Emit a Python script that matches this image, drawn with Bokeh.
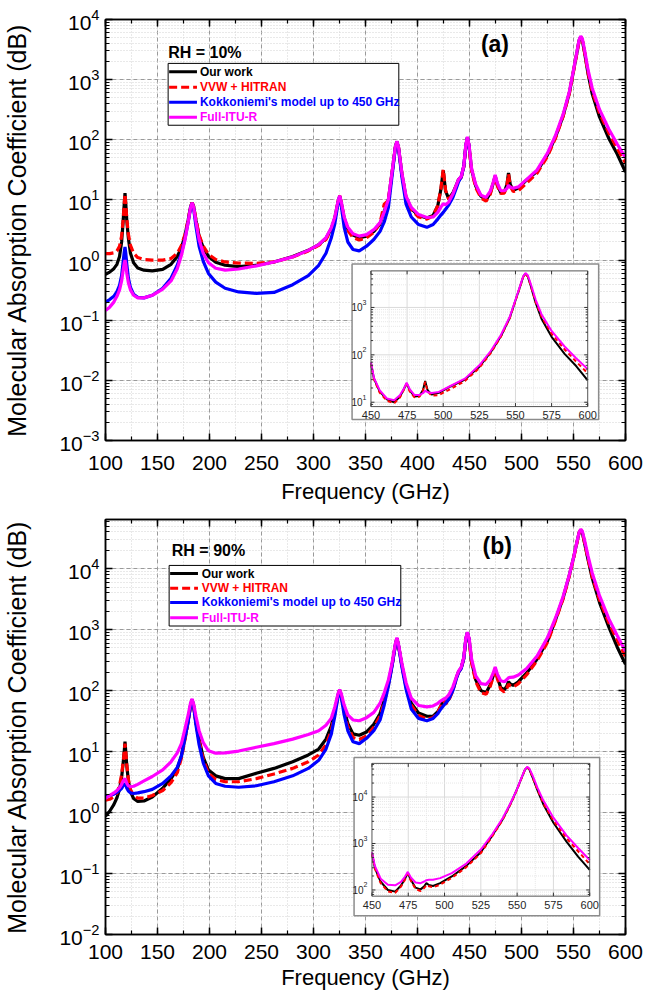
import math
from bokeh.plotting import figure
from bokeh.layouts import column
from bokeh.models import (Range1d, LinearScale, LogScale, LinearAxis, LogAxis,
                          SingleIntervalTicker, LogTicker)
from bokeh.core.properties import value
from bokeh.embed import file_html
from bokeh.resources import INLINE

# ---------------- data ----------------
FREQ = [
    100, 104, 108, 111, 113.5, 115.5, 117, 118, 118.75, 119.5,
    120.5, 122, 124, 127, 131, 137, 145, 155, 163, 169,
    173, 176.5, 179.5, 181.8, 183.3, 184.8, 187, 190, 194, 199,
    206, 215, 228, 245, 262, 280, 295, 305, 312, 317,
    320.5, 323.6, 325.15, 326.7, 329.5, 333, 338, 344, 351, 358,
    364, 368, 372, 375.5, 378.7, 380.2, 381.7, 385, 389, 394,
    401, 409, 415, 419.5, 422.5, 424.76, 427, 430, 434, 437.5,
    439.5, 442, 444.5, 446.5, 448, 449.5, 450, 452, 456, 461,
    466, 470, 472.8, 474.7, 476.8, 480, 483.5, 486, 487.5, 489.2,
    492, 497, 505, 515, 525, 533, 540, 546, 550, 553.5,
    555.4, 556.94, 558.5, 560.5, 564, 568, 575, 584, 592, 600,
]

# RH = 10 %
A_OURS = [
    0.58, 0.63, 0.72, 0.85, 1.15, 2.0, 4.5, 8.5, 13.0, 8.5,
    4.5, 2.3, 1.3, 0.9, 0.74, 0.68, 0.66, 0.7, 0.85, 1.15,
    1.6, 2.6, 4.6, 7.7, 9.0, 7.7, 4.6, 2.5, 1.6, 1.15,
    0.92, 0.82, 0.78, 0.82, 0.93, 1.15, 1.45, 1.8, 2.3, 3.3,
    5.0, 9.3, 11.5, 9.0, 5.0, 3.3, 2.6, 2.35, 2.5, 3.0,
    4.0, 6.5, 10.0, 28, 75, 93, 75, 27, 11, 7.2,
    5.5, 5.0, 5.5, 8.0, 15, 31, 14, 10.5, 13, 18,
    22, 24, 36, 80, 110, 80, 66, 32, 17, 11.5,
    10, 13, 19, 25, 18, 13.2, 13.5, 18, 28, 18,
    14.5, 15.8, 21.5, 30, 56, 115, 250, 600, 1400, 2950,
    4500, 5200, 4500, 2900, 1250, 580, 240, 105, 58, 29,
]
A_VVW = [
    1.28, 1.28, 1.32, 1.42, 1.7, 2.5, 4.8, 8.5, 12.5, 8.5,
    4.8, 2.7, 1.75, 1.3, 1.1, 1.02, 1.0, 1.0, 1.06, 1.3,
    1.75, 2.7, 4.7, 7.7, 9.0, 7.7, 4.7, 2.6, 1.7, 1.25,
    1.02, 0.93, 0.89, 0.88, 0.93, 1.12, 1.42, 1.75, 2.2, 3.2,
    4.8, 9.3, 11.8, 9.0, 4.8, 3.1, 2.35, 2.15, 2.35, 2.9,
    4.2, 8.5, 9.8, 28, 75, 93, 75, 27, 10.5, 6.8,
    5.2, 4.8, 5.4, 8.0, 15.5, 32, 14.5, 10.2, 12.5, 17.5,
    21.5, 23.5, 35, 78, 108, 79, 65, 31, 16, 10.8,
    9.5, 12.5, 18.5, 24, 17, 12.8, 13, 17.5, 27, 17,
    13.8, 14.2, 19, 28, 53, 110, 245, 590, 1380, 2900,
    4400, 5100, 4500, 2950, 1300, 640, 280, 130, 72, 41,
]
A_KOK = [  # model shown up to 450 GHz
    0.2, 0.22, 0.25, 0.3, 0.38, 0.55, 0.95, 1.35, 1.65, 1.3,
    0.85, 0.5, 0.35, 0.27, 0.24, 0.235, 0.26, 0.34, 0.5, 0.82,
    1.3, 2.3, 4.3, 7.3, 8.8, 7.0, 3.6, 1.7, 0.95, 0.6,
    0.43, 0.34, 0.295, 0.28, 0.29, 0.39, 0.55, 0.82, 1.3, 2.3,
    4.0, 8.8, 11.3, 8.0, 3.5, 2.0, 1.5, 1.42, 1.7, 2.2,
    3.0, 4.3, 7.5, 25, 73, 92, 72, 24, 8.5, 5.2,
    3.9, 3.5, 3.9, 4.8, 5.6, 6.2, 7.0, 8.2, 11, 16,
    20, 24, 36, 80, 108, 80, 66,
]
A_ITU = [
    0.145, 0.165, 0.2, 0.25, 0.32, 0.45, 0.68, 0.88, 1.0, 0.85,
    0.6, 0.42, 0.32, 0.26, 0.235, 0.235, 0.26, 0.33, 0.45, 0.72,
    1.2, 2.2, 4.3, 7.5, 9.0, 7.5, 4.3, 2.2, 1.3, 0.9,
    0.73, 0.68, 0.71, 0.8, 0.93, 1.13, 1.45, 1.8, 2.35, 3.4,
    5.2, 9.5, 11.8, 9.3, 5.2, 3.5, 2.75, 2.5, 2.65, 3.2,
    4.2, 6.3, 10.2, 29, 77, 95, 77, 28, 11.5, 7.5,
    5.7, 5.1, 5.2, 6.2, 7.6, 8.7, 8.3, 9.2, 12.5, 18,
    22, 24.5, 37, 84, 112, 84, 70, 33, 18, 12,
    11, 14, 19.5, 26, 19, 14.3, 14.2, 15.5, 17.5, 16.3,
    15.6, 16.5, 22, 31.5, 60, 122, 265, 630, 1450, 3050,
    4600, 5300, 4800, 3200, 1450, 720, 320, 150, 85, 50,
]

# RH = 90 %
B_OURS = [
    0.87, 1.05, 1.35, 1.75, 2.4, 3.8, 6.5, 10, 14.5, 10,
    5.8, 3.3, 2.2, 1.7, 1.52, 1.55, 1.8, 2.5, 3.6, 5.2,
    8.5, 17, 32, 58, 71, 56, 30, 16, 8.0, 5.0,
    4.0, 3.6, 3.6, 4.4, 5.3, 6.8, 8.8, 11, 16, 26,
    47, 85, 102, 84, 48, 29, 19.5, 18.5, 21, 28,
    42, 70, 130, 260, 560, 720, 560, 260, 120, 62,
    43, 38, 38, 45, 56, 68, 62, 72, 105, 165,
    205, 235, 340, 700, 900, 700, 610, 300, 150, 100,
    92, 125, 175, 230, 165, 112, 103, 120, 140, 128,
    122, 140, 195, 330, 650, 1500, 3300, 7800, 15000, 28000,
    39000, 43000, 39000, 27000, 14000, 7000, 2800, 1100, 520, 270,
]
B_VVW = [
    1.6, 1.65, 1.8, 2.1, 2.8, 4.2, 6.8, 10, 13.5, 10,
    6.0, 3.5, 2.4, 1.9, 1.72, 1.72, 1.9, 2.3, 3.1, 4.5,
    7.8, 16, 31, 57, 71, 55, 29, 15, 7.5, 4.4,
    3.5, 3.2, 3.2, 3.6, 4.3, 5.3, 6.8, 8.8, 13, 22,
    42, 83, 100, 82, 45, 26, 17, 15.8, 18, 25,
    38, 65, 125, 255, 555, 720, 555, 255, 115, 58,
    39, 34, 36, 44, 56, 70, 60, 68, 100, 160,
    200, 230, 335, 690, 880, 690, 600, 290, 140, 93,
    87, 118, 168, 222, 158, 105, 95, 110, 128, 120,
    114, 130, 182, 310, 620, 1450, 3200, 7600, 14500, 27500,
    38500, 43500, 39500, 27500, 14500, 7400, 3100, 1300, 680, 360,
]
B_KOK = [  # model shown up to 450 GHz
    1.8, 1.9, 2.0, 2.15, 2.3, 2.5, 2.75, 2.9, 3.0, 2.85,
    2.5, 2.25, 2.1, 2.05, 2.1, 2.2, 2.4, 3.0, 4.0, 5.5,
    8.5, 17, 31, 57, 70, 54, 27, 13, 6.5, 4.0,
    3.0, 2.7, 2.6, 2.75, 3.2, 4.0, 5.3, 7.2, 11, 19,
    38, 80, 97, 78, 40, 22, 14.5, 13.5, 16.5, 22,
    33, 58, 118, 250, 550, 710, 545, 245, 105, 50,
    35, 32, 35, 42, 50, 56, 62, 72, 100, 160,
    200, 230, 335, 700, 880, 700, 610,
]
B_ITU = [
    1.7, 1.9, 2.1, 2.3, 2.55, 2.9, 3.3, 3.5, 3.6, 3.4,
    3.0, 2.75, 2.65, 2.7, 2.9, 3.3, 3.9, 5.0, 6.8, 9.5,
    13.5, 24, 40, 63, 73, 60, 38, 22, 14, 10.3,
    9.4, 9.5, 10.2, 11.8, 13.5, 16, 19, 22, 27, 35,
    54, 89, 104, 89, 58, 40, 33, 32, 36, 44,
    62, 92, 150, 280, 590, 740, 580, 280, 135, 75,
    57, 54, 56, 62, 68, 72, 75, 85, 115, 170,
    210, 240, 350, 740, 910, 740, 650, 330, 175, 130,
    126, 150, 195, 245, 185, 145, 140, 152, 162, 165,
    166, 180, 230, 370, 740, 1600, 3500, 8000, 15000, 28500,
    39500, 44500, 41000, 30000, 16000, 8500, 3600, 1500, 800, 440,
]

LABELS = ["Our work", "VVW + HITRAN", "Kokkoniemi's model up to 450 GHz", "Full-ITU-R"]
INSET_X_TICKS = [450, 475, 500, 525, 550, 575, 600]
X_TITLE = "Frequency (GHz)"
Y_TITLE = "Molecular Absorption Coefficient (dB)"

# ---------------- styles / geometry ----------------
FONT = "Liberation Sans"
COLORS = ["#000000", "#ff0000", "#0000ff", "#ff00ff"]
DASHES = ["solid", "8 4", "solid", "solid"]
INSET_DASHES = ["solid", "4 3", "solid", "solid"]
W = 645
FL, FW = 102, 523

GEO = {
    "a": dict(H=516, TOP=19, FH=421, lab_standoff=15, title_standoff=6,
              tag="(a)", rh="RH = 10%", yr=(1e-3, 1e4),
              box=(63, 295, 44, 106), rows=[52.3, 68, 83, 98], line_u=(64, 92), text_u=95,
              rh_uv=(63, 33), tag_uv=(391.7, 24.7),
              outer=(248, 496, 245, 401), inner=(267, 485, 252, 388),
              iyr=(8.1, 5900), idec=[1, 2, 3]),
    "b": dict(H=476, TOP=3, FH=416, lab_standoff=10, title_standoff=3,
              tag="(b)", rh="RH = 90%", yr=(1e-2, 6.4e4),
              box=(64, 297, 46.7, 108.3), rows=[55, 70, 84.3, 100], line_u=(65, 93), text_u=96.7,
              rh_uv=(66.7, 31.7), tag_uv=(394, 26.7),
              outer=(250, 497, 242, 403), inner=(268, 487, 248, 383),
              iyr=(73.6, 53000), idec=[2, 3, 4]),
}


def style_axis(ax, show):
    ax.axis_line_width = 1.5
    ax.axis_line_color = "black"
    ax.major_tick_in = 7
    ax.major_tick_out = 0
    ax.minor_tick_in = 4
    ax.minor_tick_out = 0
    ax.major_tick_line_width = 1.5
    ax.minor_tick_line_width = 1.2
    ax.major_label_text_font = FONT
    if show:
        ax.major_label_text_font_size = "21px"
        ax.major_label_text_color = "black"
    else:
        ax.major_label_text_font_size = "1px"
        ax.major_label_text_color = None
        ax.major_label_standoff = 0
    ax.axis_label_text_font = FONT
    ax.axis_label_text_font_style = "normal"
    ax.axis_label_text_color = "black"


def txt(p, xs, ys, texts, size, color="black", bold=False, align="left",
        baseline="middle", xr="px", yr="py", yoff=0):
    p.text(x=xs, y=ys, text=texts, x_range_name=xr, y_range_name=yr,
           text_font=value(FONT), text_font_size=size,
           text_font_style="bold" if bold else "normal", text_color=color,
           text_align=align, text_baseline=baseline, y_offset=yoff)


def build(key, ours, vvw, kok, itu):
    g = GEO[key]
    H, TOP, FH = g["H"], g["TOP"], g["FH"]
    SV = FH / 422.0
    p = figure(width=W, height=H, x_range=Range1d(100, 600), y_range=Range1d(*g["yr"]),
               y_axis_type="log", output_backend="svg", toolbar_location=None,
               min_border_left=FL, min_border_right=W - FL - FW,
               min_border_top=TOP, min_border_bottom=H - TOP - FH)
    p.background_fill_color = "white"
    p.border_fill_color = "white"
    p.outline_line_color = "black"
    p.outline_line_width = 1.5

    xt = SingleIntervalTicker(interval=50, num_minor_ticks=2)
    yt = LogTicker(num_minor_ticks=10)
    p.xaxis.ticker = xt
    p.yaxis.ticker = yt
    p.xgrid.ticker = xt
    p.ygrid.ticker = yt
    style_axis(p.xaxis[0], True)
    style_axis(p.yaxis[0], True)
    p.xaxis.axis_label = X_TITLE
    p.yaxis.axis_label = Y_TITLE
    p.xaxis.axis_label_text_font_size = "22px"
    p.yaxis.axis_label_text_font_size = "25px"
    p.xaxis.major_label_standoff = g["lab_standoff"]
    p.xaxis.axis_label_standoff = g["title_standoff"]
    p.yaxis.major_label_standoff = 6
    p.yaxis.axis_label_standoff = 25
    top_ax = LinearAxis(ticker=xt)
    style_axis(top_ax, False)
    p.add_layout(top_ax, "above")
    right_ax = LogAxis(ticker=yt)
    style_axis(right_ax, False)
    p.add_layout(right_ax, "right")

    for grid in (p.xgrid, p.ygrid):
        grid.grid_line_color = "#9a9a9a"
        grid.grid_line_dash = "4 3"
        grid.grid_line_width = 1
        grid.minor_grid_line_color = "#d2d2d2"
        grid.minor_grid_line_dash = "1 2"
        grid.minor_grid_line_width = 1

    # helper ranges: frame pixels and the inset's data ranges
    iu0, iu1, iv0, iv1 = g["inner"]
    iv0 *= SV
    iv1 *= SV
    k = 150.0 / (iu1 - iu0)
    ix = Range1d(450 - iu0 * k, 600 + (FW - iu1) * k)
    lo, hi = math.log10(g["iyr"][0]), math.log10(g["iyr"][1])
    kk = (hi - lo) / (iv1 - iv0)
    iy = Range1d(10 ** (lo - (FH - iv1) * kk), 10 ** (hi + iv0 * kk))
    p.extra_x_ranges = {"px": Range1d(0, FW), "ix": ix}
    p.extra_y_ranges = {"py": Range1d(FH, 0), "iy": iy}
    p.extra_x_scales = {"px": LinearScale(), "ix": LinearScale()}
    p.extra_y_scales = {"py": LinearScale(), "iy": LogScale()}

    series = [ours, vvw, kok, itu]
    for s, c, d in zip(series, COLORS, DASHES):
        p.line(FREQ[:len(s)], s, line_color=c, line_width=3.2, line_dash=d)

    # legend
    u0, u1, v0, v1 = g["box"]
    p.quad(left=[u0], right=[u1], top=[v0 * SV], bottom=[v1 * SV], x_range_name="px",
           y_range_name="py", fill_color="white", line_color="black", line_width=1)
    lu0, lu1 = g["line_u"]
    for lab, c, d, rv in zip(LABELS, COLORS, DASHES, g["rows"]):
        p.segment(x0=[lu0], y0=[rv * SV], x1=[lu1], y1=[rv * SV], x_range_name="px",
                  y_range_name="py", line_color=c, line_width=3, line_dash=d)
        txt(p, [g["text_u"]], [rv * SV], [lab], "12px", color=c, bold=True)
    txt(p, [g["rh_uv"][0]], [g["rh_uv"][1] * SV], [g["rh"]], "16px", bold=True)
    txt(p, [g["tag_uv"][0]], [g["tag_uv"][1] * SV], [g["tag"]], "23px", bold=True,
        align="center")

    # inset
    ou0, ou1, ov0, ov1 = g["outer"]
    p.quad(left=[ou0], right=[ou1], top=[ov0 * SV], bottom=[ov1 * SV], x_range_name="px",
           y_range_name="py", fill_color="white", line_color="#8c8c8c", line_width=1.5)
    ymin, ymax = g["iyr"]
    vx_major = [475, 500, 525, 550, 575]
    vx_minor = [462.5, 487.5, 512.5, 537.5, 562.5, 587.5]
    p.segment(x0=vx_minor, y0=[ymin] * 6, x1=vx_minor, y1=[ymax] * 6, x_range_name="ix",
              y_range_name="iy", line_color="#e6e6e6", line_width=1, line_dash="1 1")
    p.segment(x0=vx_major, y0=[ymin] * 5, x1=vx_major, y1=[ymax] * 5, x_range_name="ix",
              y_range_name="iy", line_color="#dadada", line_width=1)
    dmin = int(math.floor(math.log10(ymin)))
    dmax = int(math.ceil(math.log10(ymax)))
    hmin, hmaj = [], []
    for d in range(dmin, dmax + 1):
        for m in range(1, 10):
            yv = m * 10 ** d
            if ymin < yv < ymax:
                (hmaj if m == 1 else hmin).append(yv)
    p.segment(x0=[450] * len(hmin), y0=hmin, x1=[600] * len(hmin), y1=hmin, x_range_name="ix",
              y_range_name="iy", line_color="#e6e6e6", line_width=1, line_dash="1 1")
    p.segment(x0=[450] * len(hmaj), y0=hmaj, x1=[600] * len(hmaj), y1=hmaj, x_range_name="ix",
              y_range_name="iy", line_color="#dadada", line_width=1)

    order = [0, 1, 3]  # the 450-GHz-limited model is not in the inset
    for i in order:
        s = series[i]
        fs = [f for f in FREQ[:len(s)] if f >= 450]
        vs = [v for f, v in zip(FREQ[:len(s)], s) if f >= 450]
        p.line(fs, vs, x_range_name="ix", y_range_name="iy", line_color=COLORS[i],
               line_width=2, line_dash=INSET_DASHES[i])

    p.quad(left=[iu0], right=[iu1], top=[iv0], bottom=[iv1], x_range_name="px",
           y_range_name="py", fill_alpha=0, line_color="#555555", line_width=1)
    # inset ticks
    xs = INSET_X_TICKS
    n = len(xs)
    p.segment(x0=xs, y0=[iv1] * n, x1=xs, y1=[iv1 - 3.5] * n, x_range_name="ix",
              y_range_name="py", line_color="#333333", line_width=1)
    p.segment(x0=xs, y0=[iv0] * n, x1=xs, y1=[iv0 + 3.5] * n, x_range_name="ix",
              y_range_name="py", line_color="#333333", line_width=1)
    for yl, ln in ((hmaj, 3.5), (hmin, 2)):
        m = len(yl)
        p.segment(x0=[iu0] * m, y0=yl, x1=[iu0 + ln] * m, y1=yl, x_range_name="px",
                  y_range_name="iy", line_color="#333333", line_width=1)
        p.segment(x0=[iu1] * m, y0=yl, x1=[iu1 - ln] * m, y1=yl, x_range_name="px",
                  y_range_name="iy", line_color="#333333", line_width=1)
    # inset labels
    txt(p, xs, [iv1 + 8.5] * n, [str(x) for x in xs], "11px", color="#262626",
        align="center", xr="ix")
    decs = g["idec"]
    yv = [10 ** d for d in decs]
    txt(p, [iu0 - 8.5] * len(decs), yv, ["10"] * len(decs), "10px", color="#262626",
        align="right", yr="iy")
    txt(p, [iu0 - 8.5] * len(decs), yv, [str(d) for d in decs], "7px", color="#262626",
        align="left", yr="iy", yoff=-5)
    return p


pa = build("a", A_OURS, A_VVW, A_KOK, A_ITU)
pb = build("b", B_OURS, B_VVW, B_KOK, B_ITU)
layout = column(pa, pb, spacing=0)
open("out.html", "w").write(file_html(layout, INLINE))
